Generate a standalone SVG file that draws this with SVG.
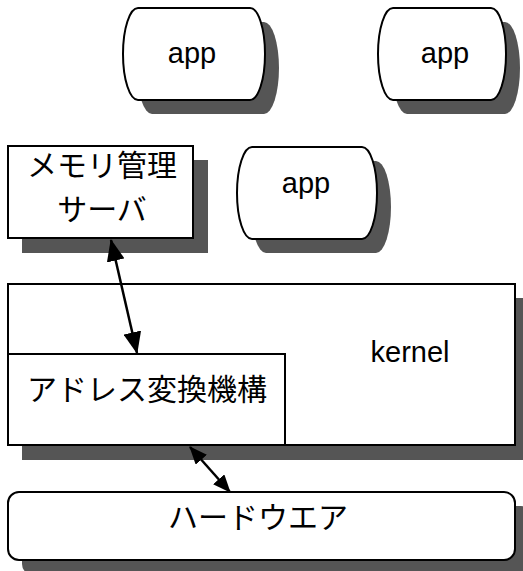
<svg xmlns="http://www.w3.org/2000/svg" width="523" height="571" viewBox="0 0 523 571">
<style>
.sh{fill:#555555;stroke:none}
.bx{fill:#ffffff;stroke:#000000;stroke-width:2}
.lat{font-family:"Liberation Sans","Noto Sans",sans-serif;font-size:29px;fill:#000;text-anchor:middle}
.jp{font-family:"Noto Sans CJK JP",sans-serif;font-size:30px;fill:#000;text-anchor:middle}
.cn{stroke:#000;stroke-width:2.5;fill:none}
</style>
<defs>
<marker id="ah" viewBox="0 0 22 18" refX="21" refY="9" markerWidth="22" markerHeight="18" markerUnits="userSpaceOnUse" orient="auto-start-reverse">
<path d="M0,0 L22,9 L0,18 Z" fill="#000"/>
</marker>
<marker id="ah2" viewBox="0 0 18 15" refX="17" refY="7.5" markerWidth="18" markerHeight="15" markerUnits="userSpaceOnUse" orient="auto-start-reverse">
<path d="M0,0 L18,7.5 L0,15 Z" fill="#000"/>
</marker>
</defs>
<g id="app1">
<path class="sh" d="M152 22 L264 22 A15 46 0 0 1 264 114 L152 114 A15 46 0 0 1 152 22 Z"/>
<path class="bx" d="M138 8 L250 8 A15 46 0 0 1 250 100 L138 100 A15 46 0 0 1 138 8 Z"/>
<text class="lat" x="192" y="63">app</text>
</g>
<g id="app2">
<path class="sh" d="M407 22 L505 22 A15 46 0 0 1 505 114 L407 114 A15 46 0 0 1 407 22 Z"/>
<path class="bx" d="M393 8 L491 8 A15 46 0 0 1 491 100 L393 100 A15 46 0 0 1 393 8 Z"/>
<text class="lat" x="445" y="63">app</text>
</g>
<g id="app3">
<path class="sh" d="M266 161 L376 161 A15 46 0 0 1 376 253 L266 253 A15 46 0 0 1 266 161 Z"/>
<path class="bx" d="M252 147 L362 147 A15 46 0 0 1 362 239 L252 239 A15 46 0 0 1 252 147 Z"/>
<text class="lat" x="306" y="193">app</text>
</g>
<g id="memserver">
<rect class="sh" x="22" y="160" width="186" height="93"/>
<rect class="bx" x="8" y="146" width="185" height="92"/>
<text class="jp" x="102" y="176">メモリ管理</text>
<text class="jp" x="102" y="220">サーバ</text>
</g>
<g id="kernel">
<rect class="sh" x="22" y="298" width="508" height="162"/>
<rect class="bx" x="8" y="284" width="507" height="161"/>
<text class="lat" x="410" y="362">kernel</text>
</g>
<g id="addr">
<rect class="bx" x="8" y="354" width="277" height="91"/>
<text class="jp" x="147" y="400">アドレス変換機構</text>
</g>
<g id="hardware">
<rect class="sh" x="22" y="506" width="510" height="69" rx="11"/>
<rect class="bx" x="8" y="492" width="507" height="68" rx="11"/>
<text class="jp" x="258" y="528">ハードウエア</text>
</g>
<g id="connectors">
<line class="cn" x1="111" y1="240" x2="137" y2="353" marker-start="url(#ah)" marker-end="url(#ah)"/>
<line class="cn" x1="190" y1="447" x2="230" y2="492" marker-start="url(#ah2)" marker-end="url(#ah2)"/>
</g>
</svg>
